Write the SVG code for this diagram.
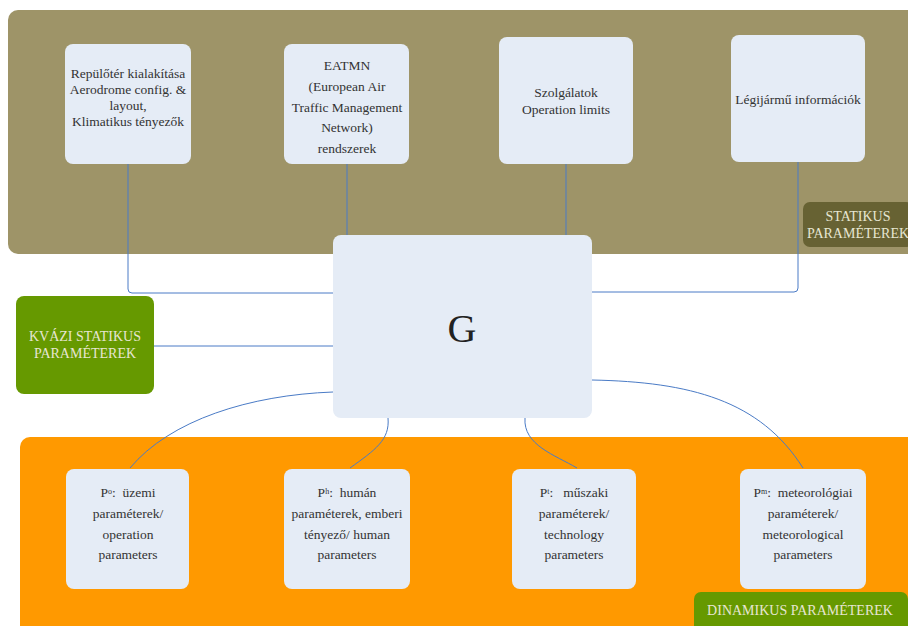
<svg xmlns="http://www.w3.org/2000/svg" width="908" height="626" viewBox="0 0 908 626" font-family="Liberation Serif, Times New Roman, serif">
<style>
.box{fill:#E5ECF6}
.t{font-size:13.5px;fill:#333333;text-anchor:middle}
.lt{font-size:14px;fill:#E6E6D2;text-anchor:middle}
.c{fill:none;stroke:#4A7BC6;stroke-width:1}
.sup{font-size:8px}
</style>
<rect width="908" height="626" fill="#FFFFFF"/>
<rect id="static-band" x="8" y="10" width="912" height="244" rx="10" fill="#9E9468"/>
<rect id="dynamic-band" x="20" y="437" width="900" height="200" rx="10" fill="#FF9900"/>
<g id="connectors">
<path class="c" d="M128,164 V289 Q128,293 132,293 H333"/>
<path class="c" d="M347,164 V235"/>
<path class="c" d="M566,164 V235"/>
<path class="c" d="M798,162 V288 Q798,292 794,292 H592"/>
<path class="c" d="M154,346 H333"/>
<path class="c" d="M130,468 C170,420 250,395 333,392"/>
<path class="c" d="M350,468 C375,450 390,440 388,418"/>
<path class="c" d="M577,468 C555,455 523,445 525,418"/>
<path class="c" d="M803,468 C760,400 690,382 592,380"/>
</g>
<g id="n-repuloter" font-family="Liberation Serif, serif">
<rect class="box" x="65" y="44" width="126" height="120" rx="8"/>
<text class="t" x="128" y="78">Repülőtér kialakítása</text>
<text class="t" x="128" y="94">Aerodrome config. &amp;</text>
<text class="t" x="128" y="110">layout,</text>
<text class="t" x="128" y="126">Klimatikus tényezők</text>
</g>
<g id="n-eatmn" font-family="Liberation Serif, serif">
<rect class="box" x="284" y="44" width="125" height="120" rx="8"/>
<text class="t" x="347" y="70">EATMN</text>
<text class="t" x="347" y="91">(European Air</text>
<text class="t" x="347" y="112">Traffic Management</text>
<text class="t" x="347" y="132">Network)</text>
<text class="t" x="347" y="153">rendszerek</text>
</g>
<g id="n-szolgalatok" font-family="Liberation Serif, serif">
<rect class="box" x="499" y="37" width="134" height="127" rx="8"/>
<text class="t" x="566" y="97">Szolgálatok</text>
<text class="t" x="566" y="114">Operation limits</text>
</g>
<g id="n-legijarmu" font-family="Liberation Serif, serif">
<rect class="box" x="731" y="35" width="134" height="127" rx="8"/>
<text class="t" x="798" y="104">Légijármű információk</text>
</g>
<g id="n-statikus" font-family="Liberation Serif, serif">
<rect x="803" y="202" width="110" height="45" rx="7" fill="#676233"/>
<text class="lt" x="858" y="221">STATIKUS</text>
<text class="lt" x="858" y="238">PARAMÉTEREK</text>
</g>
<g id="n-G" font-family="Liberation Serif, serif">
<rect class="box" x="333" y="235" width="259" height="183" rx="8"/>
<text x="462" y="342" font-size="40" fill="#222222" text-anchor="middle">G</text>
</g>
<g id="n-kvazi" font-family="Liberation Serif, serif">
<rect x="16" y="296" width="138" height="98" rx="8" fill="#669900"/>
<text class="lt" x="85" y="341">KVÁZI STATIKUS</text>
<text class="lt" x="85" y="358">PARAMÉTEREK</text>
</g>
<g id="n-po" font-family="Liberation Serif, serif">
<rect class="box" x="66" y="469" width="123" height="120" rx="8"/>
<text class="t" x="128" y="497" xml:space="preserve">P<tspan class="sup" dy="-3">o</tspan><tspan dy="3">:  üzemi</tspan></text>
<text class="t" x="128" y="518">paraméterek/</text>
<text class="t" x="128" y="539">operation</text>
<text class="t" x="128" y="559">parameters</text>
</g>
<g id="n-ph" font-family="Liberation Serif, serif">
<rect class="box" x="284" y="469" width="126" height="120" rx="8"/>
<text class="t" x="347" y="497" xml:space="preserve">P<tspan class="sup" dy="-3">h</tspan><tspan dy="3">:  humán</tspan></text>
<text class="t" x="347" y="518">paraméterek, emberi</text>
<text class="t" x="347" y="539">tényező/ human</text>
<text class="t" x="347" y="559">parameters</text>
</g>
<g id="n-pt" font-family="Liberation Serif, serif">
<rect class="box" x="512" y="469" width="124" height="120" rx="8"/>
<text class="t" x="574" y="497" xml:space="preserve">P<tspan class="sup" dy="-3">t</tspan><tspan dy="3">:   műszaki</tspan></text>
<text class="t" x="574" y="518">paraméterek/</text>
<text class="t" x="574" y="539">technology</text>
<text class="t" x="574" y="559">parameters</text>
</g>
<g id="n-pm" font-family="Liberation Serif, serif">
<rect class="box" x="740" y="469" width="126" height="120" rx="8"/>
<text class="t" x="803" y="497" xml:space="preserve">P<tspan class="sup" dy="-3">m</tspan><tspan dy="3">:  meteorológiai</tspan></text>
<text class="t" x="803" y="518">paraméterek/</text>
<text class="t" x="803" y="539">meteorological</text>
<text class="t" x="803" y="559">parameters</text>
</g>
<g id="n-dinamikus" font-family="Liberation Serif, serif">
<rect x="694" y="592" width="214" height="40" rx="7" fill="#669900"/>
<text class="lt" x="800" y="615">DINAMIKUS PARAMÉTEREK</text>
</g>
</svg>
